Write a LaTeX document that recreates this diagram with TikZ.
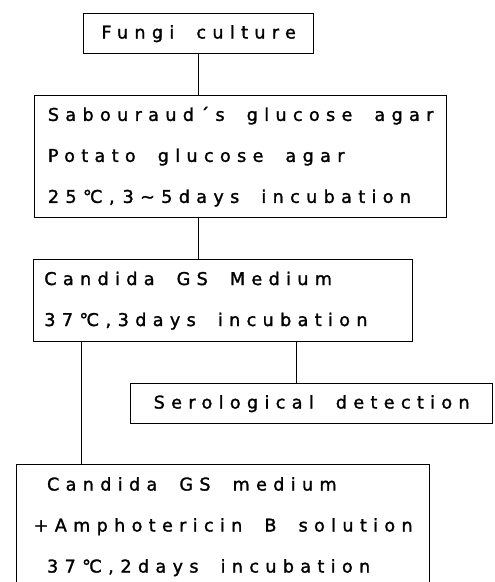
\documentclass[tikz,border=0pt]{standalone}
\usepackage{fontspec}
\newfontfamily\boxfont[LetterSpace=36, WordSpace={1.85,0,0}, FakeBold=1.5]{DejaVu Sans}
\tikzset{
  box/.style={
    rectangle, draw, line width=1pt, anchor=north west,
    align=left, inner xsep=8pt, inner ysep=0pt,
    font=\boxfont\fontsize{13.2pt}{30.75pt}\selectfont
  },
  link/.style={line width=1pt}
}

\begin{document}
\begin{tikzpicture}[x=0.75pt, y=-0.75pt]
  \useasboundingbox (0,0) rectangle (494,582);
  \clip (0,0) rectangle (494,582);

  \node[box, minimum width=172.5pt, minimum height=30pt]   (fungi)  at (83,13)  {Fungi culture};
  \node[box, minimum width=309pt,   minimum height=91.5pt] (sabour) at (34,95)  {Sabouraud´s glucose agar\\Potato glucose agar\\25℃,\kern6pt3\textasciitilde5days incubation};
  \node[box, minimum width=284.25pt, minimum height=61.5pt] (gsmed) at (33,259) {Candida GS Medium\\\makebox[268.25pt][l]{37℃,\kern5pt3days incubation}};
  \node[box, minimum width=271.5pt, minimum height=30pt]   (sero)   at (130,383) {Serological detection};
  \node[box, minimum width=309.75pt, minimum height=93pt] (amph)   at (16,464) {\hspace*{10pt}Candida GS medium\\+Amphotericin B solution\\\hspace*{10pt}37℃,\kern5pt2days incubation};

  \draw[link] (fungi.south) -- (fungi.south |- sabour.north);
  \draw[link] (fungi.south |- sabour.south) -- (fungi.south |- gsmed.north);
  \draw[link] ([xshift=-11.25pt]sero.north) -- ([xshift=-11.25pt]sero.north |- gsmed.south);
  \draw[link] ([xshift=36.4pt]gsmed.south west) -- ([xshift=36.4pt]gsmed.south west |- amph.north);
\end{tikzpicture}
\end{document}
